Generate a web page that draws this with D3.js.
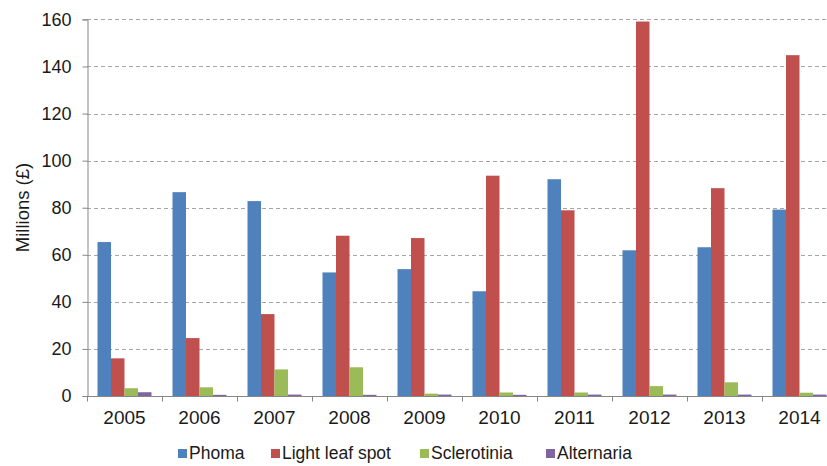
<!DOCTYPE html>
<html>
<head>
<meta charset="utf-8">
<script src="https://cdn.jsdelivr.net/npm/d3@7"></script>
<style>
  body { margin: 0; background: #fff; }
  svg text { font-family: "Liberation Sans", Arial, sans-serif; fill: #1a1a1a; }
</style>
</head>
<body>
<svg id="chart" width="827" height="466"></svg>
<script>
const years = ['2005', '2006', '2007', '2008', '2009', '2010', '2011', '2012', '2013', '2014'];
const seriesNames = ['Phoma', 'Light leaf spot', 'Sclerotinia', 'Alternaria'];
const phoma = [65.4, 86.6, 82.8, 52.5, 53.9, 44.5, 92.1, 61.9, 63.2, 79.2];
const lightLeafSpot = [16.0, 24.6, 34.8, 68.1, 67.1, 93.6, 78.9, 159.1, 88.3, 144.8];
const sclerotinia = [3.3, 3.7, 11.3, 12.2, 1.0, 1.5, 1.5, 4.2, 5.8, 1.4];
const alternaria = [1.6, 0.5, 0.6, 0.5, 0.6, 0.5, 0.6, 0.6, 0.6, 0.6];
const yTicks = [0, 20, 40, 60, 80, 100, 120, 140, 160];
const colors = ['#4f81bd', '#c0504d', '#9bbb59', '#8064a2'];

const seriesValues = [phoma, lightLeafSpot, sclerotinia, alternaria];
const rows = years.map((year, i) => ({
  year,
  values: seriesNames.map((name, s) => ({ name, value: seriesValues[s][i] }))
}));

const svg = d3.select('#chart');
const plotLeft = 87, plotRight = 837, plotTop = 19.4, plotBottom = 396;

const x0 = d3.scaleBand()
  .domain(years)
  .range([plotLeft, plotRight])
  .paddingInner(0.28)
  .paddingOuter(0.14);

const x1 = d3.scaleBand()
  .domain(seriesNames)
  .range([0, x0.bandwidth()]);

const y = d3.scaleLinear()
  .domain([0, 160])
  .range([plotBottom, plotTop]);

const color = d3.scaleOrdinal(seriesNames, colors);

// gridlines
svg.append('g')
  .selectAll('line')
  .data(yTicks.filter(t => t > 0))
  .join('line')
  .attr('x1', plotLeft)
  .attr('x2', 827)
  .attr('y1', d => Math.round(y(d)) + 0.5)
  .attr('y2', d => Math.round(y(d)) + 0.5)
  .attr('stroke', '#a6a6a6')
  .attr('stroke-dasharray', '4,3');

// bars
svg.append('g')
  .selectAll('g')
  .data(rows)
  .join('g')
  .attr('transform', d => `translate(${x0(d.year)},0)`)
  .selectAll('rect')
  .data(d => d.values)
  .join('rect')
  .attr('x', d => x1(d.name))
  .attr('width', x1.bandwidth())
  .attr('y', d => y(d.value))
  .attr('height', d => plotBottom - y(d.value))
  .attr('fill', d => color(d.name));

// y axis
const yAxis = svg.append('g')
  .attr('transform', `translate(${plotLeft + 0.5},0)`)
  .call(d3.axisLeft(y).tickValues(yTicks).tickSize(5).tickPadding(11));
yAxis.select('.domain').attr('stroke', '#868686');
yAxis.selectAll('.tick line').attr('stroke', '#868686');
yAxis.selectAll('.tick text')
  .attr('font-size', 18)
  .attr('font-family', '"Liberation Sans", Arial, sans-serif')
  .attr('fill', '#1a1a1a');

// x axis: ticks between categories
const xAxis = svg.append('g')
  .attr('transform', `translate(0,${plotBottom + 0.5})`);
xAxis.append('line')
  .attr('x1', plotLeft)
  .attr('x2', 827)
  .attr('stroke', '#868686');
xAxis.selectAll('line.tk')
  .data(years)
  .join('line')
  .attr('class', 'tk')
  .attr('x1', d => Math.round(x0(d) - x0.step() * x0.paddingOuter()) + 0.5)
  .attr('x2', d => Math.round(x0(d) - x0.step() * x0.paddingOuter()) + 0.5)
  .attr('y1', 0)
  .attr('y2', 5)
  .attr('stroke', '#868686');
xAxis.selectAll('text')
  .data(years)
  .join('text')
  .attr('x', d => x0(d) + x0.bandwidth() / 2)
  .attr('y', 27.5)
  .attr('text-anchor', 'middle')
  .attr('font-size', 19)
  .text(d => d);

// y title
svg.append('text')
  .attr('transform', 'translate(29,207.5) rotate(-90)')
  .attr('text-anchor', 'middle')
  .attr('font-size', 18.5)
  .text('Millions (£)');

// legend
const legendX = [178, 271, 420, 546];
const legend = svg.append('g')
  .selectAll('g')
  .data(seriesNames)
  .join('g')
  .attr('transform', (d, i) => `translate(${legendX[i]},459)`);
legend.append('rect')
  .attr('x', 0)
  .attr('y', -10)
  .attr('width', 9)
  .attr('height', 9)
  .attr('fill', d => color(d));
legend.append('text')
  .attr('x', 11)
  .attr('y', 0)
  .attr('font-size', 17.5)
  .text(d => d);
</script>
</body>
</html>
